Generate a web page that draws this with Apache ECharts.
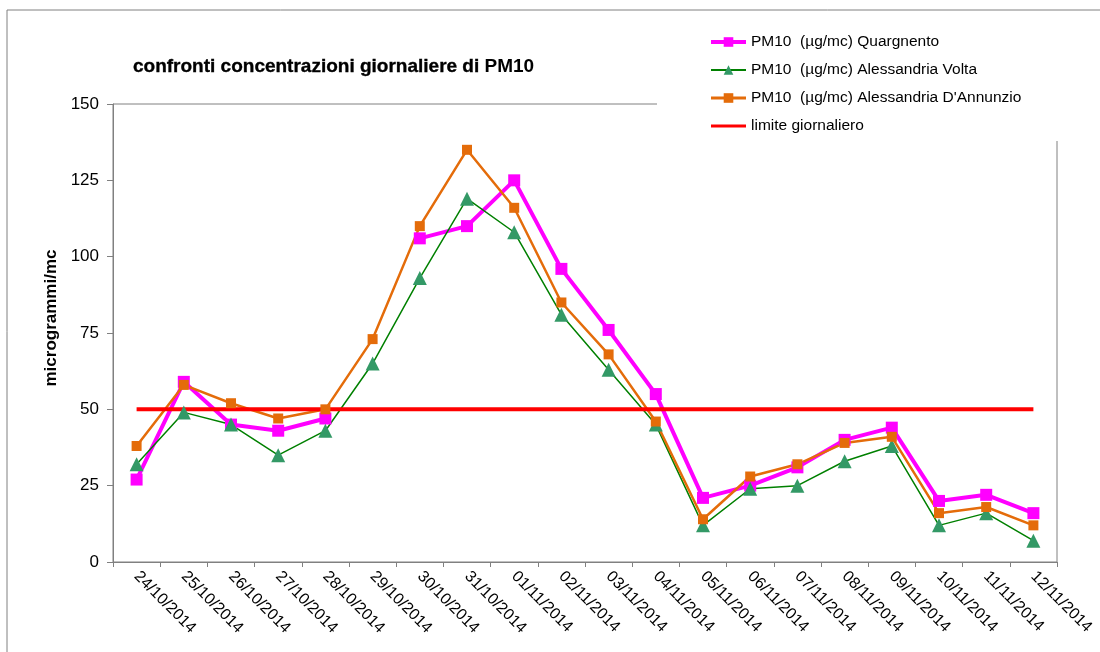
<!DOCTYPE html>
<html>
<head>
<meta charset="utf-8">
<script src="https://cdn.jsdelivr.net/npm/echarts@6/dist/echarts.min.js"></script>
<style>
  html, body { margin: 0; padding: 0; background: #fff; }
  #line { width: 1100px; height: 652px; }
</style>
</head>
<body>
<div id="line"></div>
<script>
// giorni
const dates = [
  "24/10/2014", "25/10/2014", "26/10/2014", "27/10/2014", "28/10/2014",
  "29/10/2014", "30/10/2014", "31/10/2014", "01/11/2014", "02/11/2014",
  "03/11/2014", "04/11/2014", "05/11/2014", "06/11/2014", "07/11/2014",
  "08/11/2014", "09/11/2014", "10/11/2014", "11/11/2014", "12/11/2014"
];

// PM10 (µg/mc)
const quargnento = [27, 59, 45, 43, 47, null, 106, 110, 125, 96, 76, 55, 21, 25, 31, 40, 44, 20, 22, 16];
const volta = [32, 49, 45, 35, 43, 65, 93, 119, 108, 81, 63, 45, 12, 24, 25, 33, 38, 12, 16, 7];
const dannunzio = [38, 58, 52, 47, 50, 73, 110, 135, 116, 85, 68, 46, 14, 28, 32, 39, 41, 16, 18, 12];
const limite = [50, 50, 50, 50, 50, 50, 50, 50, 50, 50, 50, 50, 50, 50, 50, 50, 50, 50, 50, 50];

const yTicks = [0, 25, 50, 75, 100, 125, 150];

const font = "'Liberation Sans', Arial, sans-serif";

const chart = echarts.init(document.getElementById("line"));

chart.setOption({
  animation: false,
  textStyle: { fontFamily: font },
  graphic: [
    {
      type: "rect",
      shape: { x: 7, y: 10, width: 1200, height: 800 },
      style: { fill: "none", stroke: "#808080", lineWidth: 1 },
      silent: true,
    },
  ],
  title: {
    left: 128,
    top: 52,
    text: "{a|confronti concentrazioni giornaliere di }{b|PM10}",
    textStyle: {
      rich: {
        a: { fontSize: 19, fontFamily: font, color: "#000", textBorderColor: "#000", textBorderWidth: 0.35 },
        b: { fontSize: 19, fontFamily: font, color: "#000", fontWeight: "bold" },
      },
    },
  },
  legend: {
    orient: "vertical",
    left: 657,
    top: 18,
    padding: [15, 60, 6, 52],
    backgroundColor: "#fff",
    itemWidth: 35,
    itemHeight: 12,
    itemGap: 10,
    textStyle: { fontSize: 15.5, lineHeight: 18, color: "#000", fontFamily: font },
    data: [
      { name: "PM10  (µg/mc) Quargnento", lineStyle: { width: 4 } },
      { name: "PM10  (µg/mc) Alessandria Volta", lineStyle: { width: 2 } },
      { name: "PM10  (µg/mc) Alessandria D'Annunzio", lineStyle: { width: 3 } },
      { name: "limite giornaliero", lineStyle: { width: 3 } },
    ],
  },
  grid: {
    left: 113,
    right: 43,
    top: 104,
    bottom: 90,
    show: true,
    borderColor: "#808080",
    borderWidth: 1,
  },
  xAxis: {
    type: "category",
    data: dates,
    boundaryGap: true,
    axisLine: { lineStyle: { color: "#808080", width: 1 } },
    axisTick: { show: true, length: 5, lineStyle: { color: "#808080" } },
    axisLabel: {
      interval: 0,
      rotate: -45,
      margin: 12,
      fontSize: 16,
      color: "#000",
      fontFamily: font,
    },
    splitLine: { show: false },
  },
  yAxis: {
    type: "value",
    min: yTicks[0],
    max: yTicks[yTicks.length - 1],
    interval: 25,
    name: "microgrammi/mc",
    nameLocation: "middle",
    nameRotate: 90,
    nameGap: 53,
    nameTextStyle: {
      fontSize: 17,
      fontWeight: "bold",
      color: "#000",
      fontFamily: font,
      padding: [0, 0, 0, 30],
    },
    axisLine: { show: true, lineStyle: { color: "#808080", width: 1 } },
    axisTick: { show: true, length: 6, lineStyle: { color: "#808080" } },
    axisLabel: { margin: 14, fontSize: 17, color: "#000", fontFamily: font },
    splitLine: { show: false },
  },
  series: [
    {
      name: "PM10  (µg/mc) Quargnento",
      type: "line",
      data: quargnento,
      symbol: "rect",
      symbolSize: 12,
      connectNulls: false,
      itemStyle: { color: "#FF00FF" },
      lineStyle: { color: "#FF00FF", width: 4 },
    },
    {
      name: "PM10  (µg/mc) Alessandria Volta",
      type: "line",
      data: volta,
      symbol: "triangle",
      symbolSize: 14,
      itemStyle: { color: "#339966" },
      lineStyle: { color: "#008000", width: 1.5 },
    },
    {
      name: "PM10  (µg/mc) Alessandria D'Annunzio",
      type: "line",
      data: dannunzio,
      symbol: "rect",
      symbolSize: 10,
      itemStyle: { color: "#E46C0A" },
      lineStyle: { color: "#E46C0A", width: 2.5 },
    },
    {
      name: "limite giornaliero",
      type: "line",
      data: limite,
      symbol: "none",
      // no marker: keep the legend icon a plain line
      itemStyle: { color: "rgba(0,0,0,0)" },
      lineStyle: { color: "#FF0000", width: 4 },
    },
  ],
});
</script>
</body>
</html>
